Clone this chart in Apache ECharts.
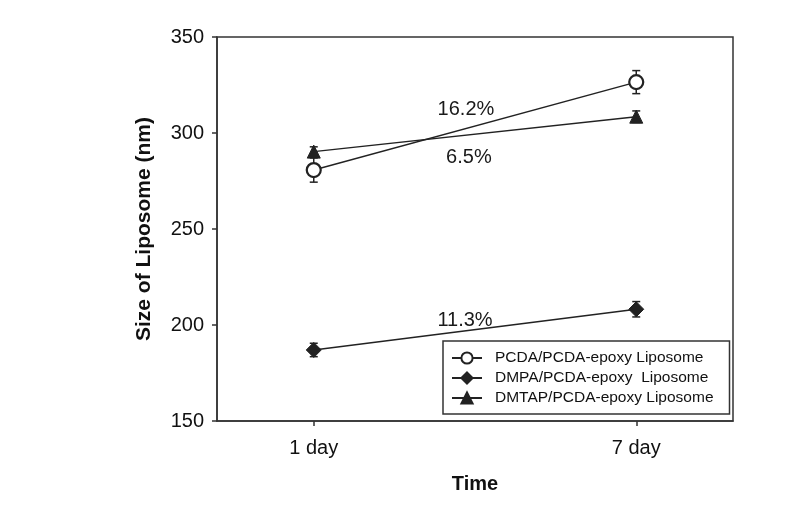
<!DOCTYPE html>
<html>
<head>
<meta charset="utf-8">
<script src="https://cdn.jsdelivr.net/npm/echarts@6/dist/echarts.min.js"></script>
<style>html,body{margin:0;padding:0;background:#fff}#c{width:806px;height:507px}</style>
</head>
<body>
<div id="c"></div>
<script>
// ---- data ----
var categories = ['1 day', '7 day'];
var seriesNames = ['PCDA/PCDA-epoxy Liposome', 'DMPA/PCDA-epoxy  Liposome', 'DMTAP/PCDA-epoxy Liposome'];
var pcdaValues = [280.7, 326.5];
var pcdaErrors = [6.3, 6.0];
var dmpaValues = [187.0, 208.2];
var dmpaErrors = [3.5, 4.0];
var dmtapValues = [290.3, 308.5];
var dmtapErrors = [2.5, 3.0];
var yTicks = [150, 200, 250, 300, 350];
var annotationTexts = ['16.2%', '6.5%', '11.3%'];
var annotationX = [0.472, 0.481, 0.469];
var annotationY = [312.0, 287.5, 202.1];

var FONT = 'Liberation Sans, Arial, sans-serif';
var INK = '#222';

function pts(vals) { return vals.map(function (v, i) { return [i, v]; }); }
function errPts(vals, errs) { return vals.map(function (v, i) { return [i, v, errs[i]]; }); }

var allErr = errPts(pcdaValues, pcdaErrors).concat(errPts(dmpaValues, dmpaErrors)).concat(errPts(dmtapValues, dmtapErrors));
var annData = annotationTexts.map(function (t, i) { return [annotationX[i], annotationY[i], i]; });

var chart = echarts.init(document.getElementById('c'), null, { renderer: 'canvas' });
chart.setOption({
  animation: false,
  backgroundColor: '#fff',
  grid: { left: 217, top: 37, right: 73, bottom: 86, show: true, borderColor: '#333', borderWidth: 1.5, containLabel: false },
  xAxis: {
    type: 'value', min: -0.3, max: 1.3,
    name: 'Time', nameLocation: 'middle', nameGap: 53,
    nameTextStyle: { fontFamily: FONT, fontSize: 20, fontWeight: 'bold', color: '#111' },
    axisLine: { show: true, onZero: false, lineStyle: { color: '#333', width: 1.5 } },
    axisTick: { show: true, inside: false, length: 5, customValues: [0, 1], lineStyle: { color: '#333', width: 1.5 } },
    axisLabel: { customValues: [0, 1], margin: 17, fontFamily: FONT, fontSize: 20, color: '#111',
      formatter: function (v) { return categories[Math.round(v)]; } },
    splitLine: { show: false }
  },
  yAxis: {
    type: 'value', min: yTicks[0], max: yTicks[yTicks.length - 1], interval: 50,
    name: 'Size of Liposome (nm)', nameLocation: 'middle', nameGap: 62,
    nameTextStyle: { fontFamily: FONT, fontSize: 21, fontWeight: 'bold', color: '#111' },
    axisLine: { show: true, onZero: false, lineStyle: { color: '#333', width: 1.5 } },
    axisTick: { show: true, inside: false, length: 5, lineStyle: { color: '#333', width: 1.5 } },
    axisLabel: { margin: 13, fontFamily: FONT, fontSize: 20, color: '#111' },
    splitLine: { show: false }
  },
  legend: {
    orient: 'vertical', left: 443, top: 341,
    padding: [9, 16, 8, 8],
    itemGap: 4, itemWidth: 30, itemHeight: 14,
    borderColor: '#333', borderWidth: 1.5,
    textStyle: { fontFamily: FONT, fontSize: 15.5, color: '#111', padding: [0, 0, 0, 8] },
    data: seriesNames
  },
  series: [
    {
      type: 'custom', name: 'err', z: 1, silent: true,
      data: allErr,
      renderItem: function (params, api) {
        var x = api.value(0), y = api.value(1), e = api.value(2);
        var top = api.coord([x, y + e]);
        var bot = api.coord([x, y - e]);
        var hw = 4;
        var st = { stroke: INK, lineWidth: 1.5 };
        return { type: 'group', children: [
          { type: 'line', shape: { x1: top[0], y1: top[1], x2: bot[0], y2: bot[1] }, style: st },
          { type: 'line', shape: { x1: top[0] - hw, y1: top[1], x2: top[0] + hw, y2: top[1] }, style: st },
          { type: 'line', shape: { x1: bot[0] - hw, y1: bot[1], x2: bot[0] + hw, y2: bot[1] }, style: st }
        ] };
      }
    },
    {
      type: 'line', name: seriesNames[0], z: 3, data: pts(pcdaValues),
      symbol: 'circle', symbolSize: 14,
      itemStyle: { color: '#fff', borderColor: INK, borderWidth: 2.2 },
      lineStyle: { color: INK, width: 1.5 }
    },
    {
      type: 'line', name: seriesNames[1], z: 3, data: pts(dmpaValues),
      symbol: 'diamond', symbolSize: 15,
      itemStyle: { color: INK, borderColor: INK, borderWidth: 1 },
      lineStyle: { color: INK, width: 1.5 }
    },
    {
      type: 'line', name: seriesNames[2], z: 3, data: pts(dmtapValues),
      symbol: 'triangle', symbolSize: 13,
      itemStyle: { color: INK, borderColor: INK, borderWidth: 1 },
      lineStyle: { color: INK, width: 1.5 }
    },
    {
      type: 'custom', name: 'annotations', z: 4, silent: true,
      data: annData,
      renderItem: function (params, api) {
        var p = api.coord([api.value(0), api.value(1)]);
        return { type: 'text', x: p[0], y: p[1], style: {
          text: annotationTexts[api.value(2)], fill: '#1a1a1a',
          font: '20px Liberation Sans, Arial, sans-serif', align: 'center', verticalAlign: 'middle' } };
      }
    }
  ]
});
</script>
</body>
</html>
